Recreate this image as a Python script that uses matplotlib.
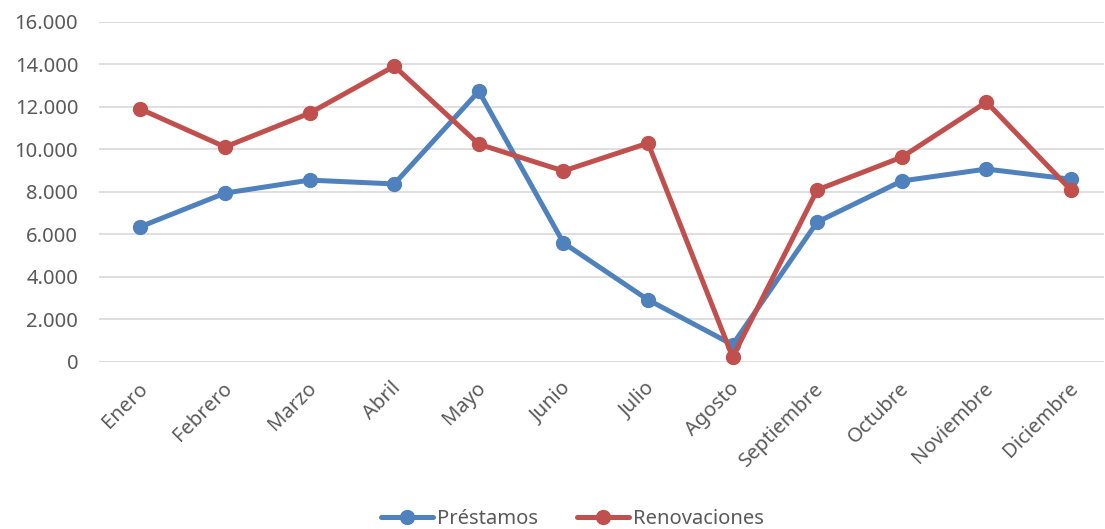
import matplotlib
matplotlib.use("Agg")
import matplotlib.pyplot as plt
from matplotlib.ticker import FuncFormatter
import matplotlib.transforms as mtransforms

plt.rcParams['font.family'] = ['Noto Sans', 'DejaVu Sans']

meses = ['Enero', 'Febrero', 'Marzo', 'Abril', 'Mayo', 'Junio', 'Julio',
         'Agosto', 'Septiembre', 'Octubre', 'Noviembre', 'Diciembre']
prestamos = [6350, 7930, 8540, 8360, 12720, 5590, 2910, 800, 6570, 8500, 9060, 8580]
renovaciones = [11880, 10100, 11690, 13900, 10230, 8970, 10280, 220, 8080, 9620, 12210, 8070]

c_blue = '#4F81BD'
c_red = '#C0504D'
c_text = '#595959'

fig = plt.figure(figsize=(11.05, 5.29), dpi=100)
W, H = 1105, 529
ax = fig.add_axes([99 / W, (H - 361.7) / H, (1104 - 99) / W, (361.7 - 21.5) / H])

x = list(range(len(meses)))
ax.plot(x, prestamos, color=c_blue, lw=3.6, marker='o', ms=10,
        label='Préstamos', clip_on=False, zorder=3, solid_capstyle='round')
ax.plot(x, renovaciones, color=c_red, lw=3.6, marker='o', ms=10,
        label='Renovaciones', clip_on=False, zorder=4, solid_capstyle='round')

ax.set_xlim(-0.49, 11.39)
ax.set_ylim(0, 16000)
ax.set_yticks(range(0, 16001, 2000))
ax.yaxis.set_major_formatter(FuncFormatter(lambda v, p: f'{int(v):,}'.replace(',', '.')))
ax.grid(axis='y', color='#D9D9D9', lw=1.2)
ax.set_axisbelow(True)
for s in ax.spines.values():
    s.set_visible(False)
ax.tick_params(axis='both', length=0, colors=c_text, labelsize=14.5)
ax.tick_params(axis='y', pad=15)

ax.set_xticks(x)
ax.set_xticklabels(meses, rotation=45, ha='right', va='center', rotation_mode='anchor')
offset = mtransforms.ScaledTranslation(4 / 100, -19 / 100, fig.dpi_scale_trans)
for lab in ax.get_xticklabels():
    lab.set_transform(lab.get_transform() + offset)

leg = fig.legend(loc='lower center', bbox_to_anchor=(0.518, -0.035), ncol=2, frameon=False,
                 fontsize=14.5, handlelength=2.6, handletextpad=0.2, columnspacing=1.9)
for t in leg.get_texts():
    t.set_color(c_text)

fig.savefig('out.png', dpi=100)
